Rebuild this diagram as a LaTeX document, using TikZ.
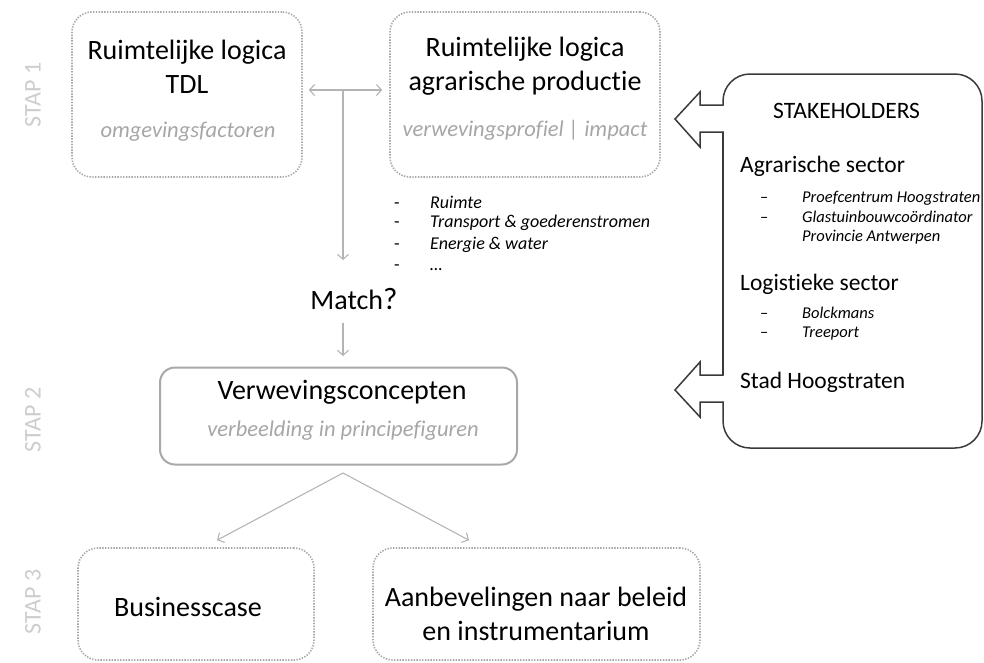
\documentclass[tikz,border=0pt]{standalone}
\usepackage{fontspec}
\setmainfont{Carlito}[Ligatures=NoCommon]
\usetikzlibrary{arrows.meta}

\definecolor{lijngrijs}{HTML}{A8A8A8}
\definecolor{pijlgrijs}{HTML}{B4B4B4}
\definecolor{subgrijs}{HTML}{A6A6A6}
\definecolor{stapgrijs}{HTML}{CDCDCD}
\definecolor{kader}{HTML}{3A3A3A}

\tikzset{
    stapbox/.style={draw=lijngrijs, line width=1.6pt, dash pattern=on 1.4pt off 1.4pt,
        rounded corners=20pt, inner sep=0pt},
    titel/.style={align=center, inner sep=0pt, font=\fontsize{28}{34.5}\selectfont},
    subtitel/.style={inner sep=0pt, text=subgrijs, font=\fontsize{22.5}{26}\selectfont\itshape},
    staplabel/.style={rotate=90, inner sep=0pt, text=stapgrijs, font=\fontsize{24}{28}\selectfont},
    lijst/.style={inner sep=0pt, anchor=west, font=\fontsize{18}{22}\selectfont\itshape},
    klein/.style={inner sep=0pt, anchor=west, font=\fontsize{16.5}{20}\selectfont\itshape},
    stakekop/.style={inner sep=0pt, anchor=west, font=\fontsize{23.5}{28}\selectfont},
    pijl/.style={draw=pijlgrijs, line width=1.1pt, -{Straight Barb[length=5pt,width=11pt]}},
    kaderlijn/.style={draw=kader, line width=1.5pt, line cap=round},
}

\begin{document}
\begin{tikzpicture}[
        x=1pt, y=-1pt
    ]
    \useasboundingbox (0,0) rectangle (984,662);

    % stappen
    \foreach \y/\n in {95/1, 420/2, 602/3} {
        \node[staplabel] (stap\n) at (33,\y) {STAP \n};
    }

    % stap 1
    \node[stapbox, minimum width=230pt, minimum height=165pt] (tdl) at (187,94.5) {};
    \node[titel] (tdltitel) at (187,67) {Ruimtelijke logica\\TDL};
    \node[subtitel] (tdlsub) at (188,132) {omgevingsfactoren};

    \node[stapbox, minimum width=270pt, minimum height=165pt] (agrar) at (525,94.5) {};
    \node[titel] (agrartitel) at (525,66) {Ruimtelijke logica\\agrarische productie};
    \node[subtitel] (agrarsub) at (525,130) {verwevingsprofiel | impact};

    \coordinate (split) at (343,90);
    \draw[pijl, {Straight Barb[length=5pt,width=11pt]}-{Straight Barb[length=5pt,width=11pt]},
        shorten <=6pt, shorten >=7pt] (tdl.east |- split) -- (agrar.west |- split);

    \foreach \y/\t in {202/Ruimte, 223/{Transport \& goederenstromen}, 245/{Energie \& water}, 268/\ldots} {
        \node[lijst] (item\y) at (394,\y) {\makebox[36pt][l]{\upshape -}\t};
    }

    % match
    \node[titel] (match) at (354,299) {Match{\fontsize{31}{31}\selectfont ?}};
    \draw[pijl, shorten >=28pt] (split) -- (split |- match.north);

    % stap 2
    \node[draw=lijngrijs, line width=2pt, rounded corners=15pt, minimum width=357pt,
        minimum height=97pt] (verw) at (338.5,416) {};
    \node[titel] (verwtitel) at (342,392) {Verwevingsconcepten};
    \node[subtitel] (verwsub) at (343,431) {verbeelding in principefiguren};
    \draw[pijl, shorten <=13pt, shorten >=10.5pt] (split |- match.south) -- (split |- verw.north);

    % stap 3
    \node[stapbox, minimum width=236pt, minimum height=112pt] (business) at (196,604) {};
    \node[titel] (businesstitel) at (188,607) {Businesscase};
    \node[stapbox, minimum width=327pt, minimum height=112pt] (aanbev) at (536.5,604) {};
    \node[titel] (aanbevtitel) at (536,614) {Aanbevelingen naar beleid\\en instrumentarium};

    \path (split |- verw.south) ++(0,7.5) coordinate (vork);
    \draw[pijl] (vork) -- ([xshift=21pt,yshift=7pt]business.north);
    \draw[pijl] (vork) -- ([xshift=-67.5pt,yshift=7pt]aanbev.north);

    % stakeholders
    \draw[kaderlijn, rounded corners=27pt]
        (723,105) -- (723,74) -- (982,74) -- (982,448) -- (723,448) -- (723,402);
    \draw[kaderlijn] (723,132) -- (723,375);
    \draw[kaderlijn]
        (723,105) -- (700,105) -- (700,92) -- (675,119) -- (700,147) -- (700,132) -- (723,132);
    \draw[kaderlijn]
        (723,375) -- (700,375) -- (700,362) -- (675,390) -- (700,417) -- (700,402) -- (723,402);

    \node[stakekop] (stakehold) at (773,111) {STAKEHOLDERS};
    \node[stakekop] (agrsector) at (740,166) {Agrarische sector};
    \node[stakekop] (logsector) at (740,284) {Logistieke sector};
    \node[stakekop] (stad) at (740,382) {Stad Hoogstraten};
    \foreach \y/\t in {198/{Proefcentrum Hoogstraten}, 217/Glastuinbouwco\"ordinator, 313/Bolckmans, 334/Treeport} {
        \node[klein] (naam\y) at (760,\y) {\makebox[42pt][l]{\upshape --}\t};
    }
    \node[klein] (provincie) at (802,237) {Provincie Antwerpen};
\end{tikzpicture}
\end{document}
